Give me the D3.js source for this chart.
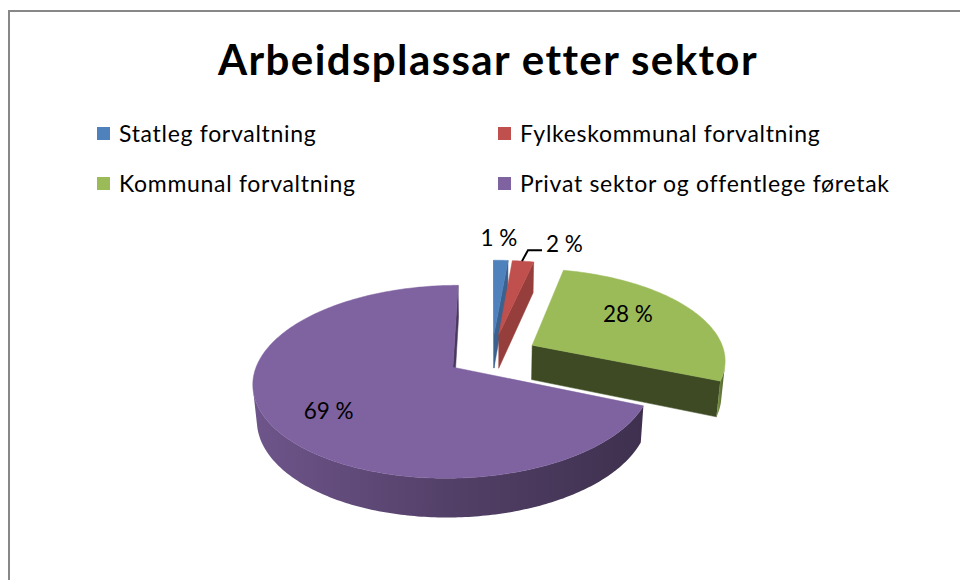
<!DOCTYPE html>
<html>
<head>
<meta charset="utf-8">
<script src="https://cdn.jsdelivr.net/npm/d3@7"></script>
<style>
  body { margin: 0; background: #fff; }
  svg { display: block; font-family: Lato, "Open Sans", sans-serif; }
</style>
</head>
<body>
<div id="chart"></div>
<script>
// ---- data ----
const categories = ["Statleg forvaltning", "Fylkeskommunal forvaltning",
                    "Kommunal forvaltning", "Privat sektor og offentlege føretak"];
const shares = [1.4, 2.1, 27.8, 68.7];
const pctLabels = ["1 %", "2 %", "28 %", "69 %"];
const colors = ["#4f81bd", "#c0504d", "#9bbb59", "#7f62a0"];

// how dark the cut faces of each slice get (d3 darker k)
const faceShade = [0.8, 0.7, 2.6, 1.5];
// where the labels of the big slices sit (fraction of radius, extra dy)
const labelPos = [null, null, {f: 0.6, dy: -8}, {f: 0.7, dy: 4}];

const W = 960, H = 580;

const svg = d3.select("#chart").append("svg")
    .attr("width", W)
    .attr("height", H);

// chart frame (runs off the right and bottom edges)
svg.append("rect")
    .attr("x", 9).attr("y", 11)
    .attr("width", 1000).attr("height", 700)
    .attr("fill", "#fff")
    .attr("stroke", "#878787")
    .attr("stroke-width", 2);

// title
svg.append("text")
    .attr("x", 488).attr("y", 75)
    .attr("text-anchor", "middle")
    .attr("font-size", 42)
    .attr("font-weight", 700)
    .attr("letter-spacing", 1.4)
    .attr("fill", "#000")
    .text("Arbeidsplassar etter sektor");

// legend, two columns
const legend = svg.append("g").attr("class", "legend");
const legItems = legend.selectAll("g")
    .data(categories)
    .enter().append("g")
    .attr("transform", (d, i) => `translate(${i % 2 === 0 ? 97 : 498}, ${127 + Math.floor(i / 2) * 50})`);
legItems.append("rect")
    .attr("width", 13).attr("height", 13)
    .attr("fill", (d, i) => colors[i]);
legItems.append("text")
    .attr("x", 22).attr("y", 15)
    .attr("font-size", 23)
    .attr("letter-spacing", 0.7)
    .attr("fill", "#000")
    .text(d => d);

// ---- 3D pie ----
const tilt = 28 * Math.PI / 180;
const dist = 1150;      // camera distance for perspective
const radius = 193;
const thick = 40;
const explode = 46;
const cx = 492, cy = 355;

const cosT = Math.cos(tilt), sinT = Math.sin(tilt);
const cam = [0, -dist * cosT, dist * sinT];

// u: right, w: away from viewer, h: up
function project(u, w, h) {
    const depth = w * cosT - h * sinT;
    const s = dist / (dist + depth);
    return [cx + u * s, cy - (w * sinT + h * cosT) * s];
}

function facing(n, p) {
    return n[0] * (cam[0] - p[0]) + n[1] * (cam[1] - p[1]) + n[2] * (cam[2] - p[2]) > 0;
}

const data = categories.map((c, i) => ({name: c, value: shares[i], label: pctLabels[i], color: colors[i], i: i}));
const pie = d3.pie().sort(null).value(d => d.value);
const slices = pie(data).map(a => {
    const mid = (a.startAngle + a.endAngle) / 2;
    return Object.assign(a, {
        mid: mid,
        ou: explode * Math.sin(mid),
        ow: explode * Math.cos(mid)
    });
});

const line = d3.line();
const defs = svg.append("defs");
const pieG = svg.append("g").attr("class", "pie");

function angles(a0, a1) {
    const n = Math.max(2, Math.ceil((a1 - a0) / 0.015));
    return d3.range(n + 1).map(k => a0 + (a1 - a0) * k / n);
}

// back to front
slices.slice().sort((a, b) => b.ow - a.ow).forEach(s => {
    const rim = (a, h) => project(s.ou + radius * Math.sin(a), s.ow + radius * Math.cos(a), h);
    const apex = h => project(s.ou, s.ow, h);
    const base = d3.color(s.data.color);
    const g = pieG.append("g");

    // cut faces
    const faces = [
        {a: s.startAngle, n: [-Math.cos(s.startAngle), Math.sin(s.startAngle), 0]},
        {a: s.endAngle, n: [Math.cos(s.endAngle), -Math.sin(s.endAngle), 0]}
    ];
    faces.forEach(f => {
        if (!facing(f.n, [s.ou, s.ow, 0])) return;
        g.append("path")
            .attr("d", line([apex(0), rim(f.a, 0), rim(f.a, -thick), apex(-thick)]) + "Z")
            .attr("fill", base.darker(faceShade[s.data.i]))
            .attr("stroke", base.darker(faceShade[s.data.i]))
            .attr("stroke-width", 0.5);
    });

    // outer wall, only the part turned to the viewer
    const vis = angles(s.startAngle, s.endAngle).filter(a => {
        const p = [s.ou + radius * Math.sin(a), s.ow + radius * Math.cos(a), 0];
        return facing([Math.sin(a), Math.cos(a), 0], p);
    });
    if (vis.length > 1) {
        const gid = "wall" + s.data.i;
        const grad = defs.append("linearGradient").attr("id", gid)
            .attr("x1", 0).attr("x2", 1).attr("y1", 0).attr("y2", 0);
        grad.append("stop").attr("offset", 0).attr("stop-color", base.darker(0.4));
        grad.append("stop").attr("offset", 0.5).attr("stop-color", base.darker(1.2));
        grad.append("stop").attr("offset", 1).attr("stop-color", base.darker(2.0));
        const a0 = d3.min(vis), a1 = d3.max(vis);
        const top = angles(a0, a1).map(a => rim(a, 0));
        const bot = angles(a0, a1).reverse().map(a => rim(a, -thick));
        g.append("path")
            .attr("d", line(top.concat(bot)) + "Z")
            .attr("fill", `url(#${gid})`);
    }

    // top face
    g.append("path")
        .attr("d", line([apex(0)].concat(angles(s.startAngle, s.endAngle).map(a => rim(a, 0)))) + "Z")
        .attr("fill", base)
        .attr("stroke", base)
        .attr("stroke-width", 0.5);
});

// data labels
const labG = svg.append("g").attr("class", "labels")
    .attr("font-size", 22.5).attr("fill", "#000");
slices.forEach(s => {
    const lp = labelPos[s.data.i];
    if (lp) {
        const p = project(s.ou + lp.f * radius * Math.sin(s.mid), s.ow + lp.f * radius * Math.cos(s.mid), 0);
        labG.append("text")
            .attr("x", p[0]).attr("y", p[1] + lp.dy)
            .attr("text-anchor", "middle")
            .attr("dominant-baseline", "central")
            .text(s.data.label);
    } else {
        const r = project(s.ou + radius * Math.sin(s.mid), s.ow + radius * Math.cos(s.mid), 0);
        if (s.index === 0) {
            labG.append("text")
                .attr("x", r[0] - 2).attr("y", r[1] - 23)
                .attr("text-anchor", "middle")
                .attr("dominant-baseline", "central")
                .text(s.data.label);
        } else {
            labG.append("path")
                .attr("d", line([[r[0] - 1, r[1]], [r[0] + 5, r[1] - 11], [r[0] + 19, r[1] - 11]]))
                .attr("fill", "none").attr("stroke", "#000").attr("stroke-width", 2);
            labG.append("text")
                .attr("x", r[0] + 23).attr("y", r[1] - 18)
                .attr("dominant-baseline", "central")
                .text(s.data.label);
        }
    }
});
</script>
</body>
</html>
